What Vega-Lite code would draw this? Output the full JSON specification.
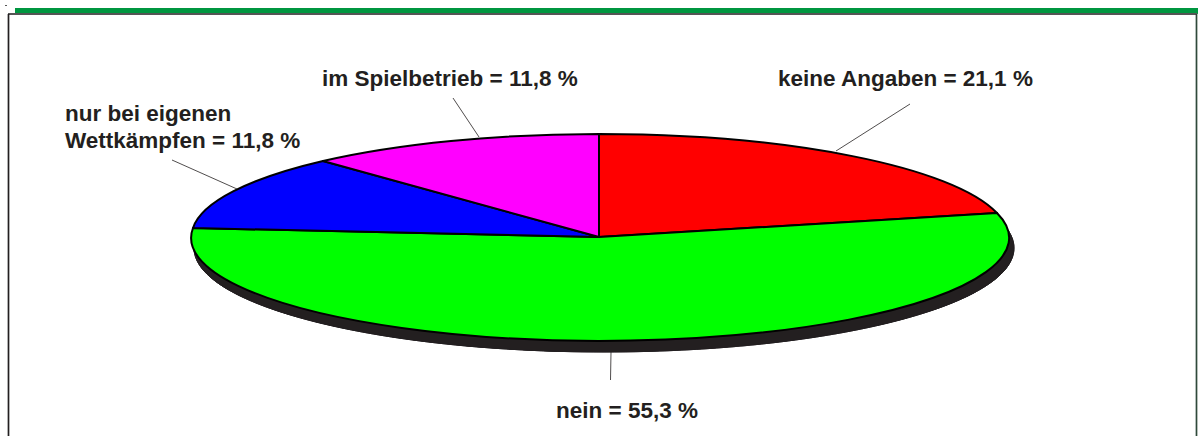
{
"$schema":"https://vega.github.io/schema/vega-lite/v6.json",
"width":1198,"height":436,"padding":0,"autosize":{"type":"none"},
"background":"#ffffff",
"config":{"view":{"stroke":null},"axis":{"disable":true},"legend":{"disable":true},"text":{"font":"Liberation Sans","fontWeight":"bold","fontSize":22.5,"fill":"#231f20","align":"left","baseline":"alphabetic"}},
"data":{"values":[
{"slice":"keine Angaben","share":21.1,"label":"keine Angaben = 21,1 %"},
{"slice":"nein","share":55.3,"label":"nein = 55,3 %"},
{"slice":"nur bei eigenen Wettkämpfen","share":11.8,"label":["nur bei eigenen","Wettkämpfen = 11,8 %"]},
{"slice":"im Spielbetrieb","share":11.8,"label":"im Spielbetrieb = 11,8 %"}
]},
"layer":[
{"mark":{"type":"rect","fill":"#009640"},"encoding":{
"x":{"datum":15,"type":"quantitative","scale":{"domain":[0,1198],"nice":false,"zero":false}},
"x2":{"datum":1198},
"y":{"datum":8,"type":"quantitative","scale":{"domain":[436,0],"nice":false,"zero":false}},
"y2":{"datum":13.5}}},
{"mark":{"type":"rule","stroke":"#555555","strokeWidth":1.5},"encoding":{"x":{"datum":8,"type":"quantitative"},"x2":{"datum":1197},"y":{"datum":14,"type":"quantitative"},"y2":{"datum":14}}},
{"mark":{"type":"rule","stroke":"#231f20","strokeWidth":1.2},"encoding":{"x":{"datum":8.5,"type":"quantitative"},"x2":{"datum":8.5},"y":{"datum":14,"type":"quantitative"},"y2":{"datum":436}}},
{"mark":{"type":"rule","stroke":"#2f4a3a","strokeWidth":1.2},"encoding":{"x":{"datum":1196.5,"type":"quantitative"},"x2":{"datum":1196.5},"y":{"datum":14,"type":"quantitative"},"y2":{"datum":436}}},
{"mark":{"type":"rule","stroke":"#555555","strokeWidth":1},"encoding":{"x":{"datum":5,"type":"quantitative"},"x2":{"datum":7},"y":{"datum":5.5,"type":"quantitative"},"y2":{"datum":5.5}}},
{"mark":{"type":"point","filled":true,"opacity":1,"size":4,"fill":"#231f20","stroke":"#231f20","strokeWidth":0.5,"shape":"M-405,11 A410,104 0 1 1 415,11 A410,104 0 1 1 -405,11 Z"},"encoding":{"x":{"datum":599,"type":"quantitative"},"y":{"datum":237,"type":"quantitative"}}},
{"mark":{"type":"point","filled":true,"opacity":1,"size":4,"stroke":"#000000","strokeWidth":2,"strokeJoin":"round"},"encoding":{
"x":{"datum":599,"type":"quantitative"},
"y":{"datum":237,"type":"quantitative"},
"fill":{"field":"slice","type":"nominal","scale":{"domain":["keine Angaben","nein","nur bei eigenen Wettkämpfen","im Spielbetrieb"],"range":["#ff0000","#00ff00","#0000ff","#ff00ff"]}},
"shape":{"field":"slice","type":"nominal","scale":{"domain":["keine Angaben","nein","nur bei eigenen Wettkämpfen","im Spielbetrieb"],"range":[
"M0,0 L0,-103 A409,103 0 0 1 398,-24 Z",
"M0,0 L398,-24 A409,103 0 1 1 -406,-9 Z",
"M0,0 L-406,-9 A409,103 0 0 1 -276,-76 Z",
"M0,0 L-276,-76 A409,103 0 0 1 0,-103 Z"]}}}},
{"transform":[{"filter":"datum.slice==='keine Angaben'"}],"layer":[
{"mark":{"type":"rule","stroke":"#231f20","strokeWidth":0.8},"encoding":{"x":{"datum":910,"type":"quantitative"},"x2":{"datum":836},"y":{"datum":104,"type":"quantitative"},"y2":{"datum":151}}},
{"mark":"text","encoding":{"x":{"datum":778,"type":"quantitative"},"y":{"datum":86,"type":"quantitative"},"text":{"field":"label"}}}]},
{"transform":[{"filter":"datum.slice==='im Spielbetrieb'"}],"layer":[
{"mark":{"type":"rule","stroke":"#231f20","strokeWidth":0.8},"encoding":{"x":{"datum":453,"type":"quantitative"},"x2":{"datum":479},"y":{"datum":98,"type":"quantitative"},"y2":{"datum":137}}},
{"mark":"text","encoding":{"x":{"datum":322,"type":"quantitative"},"y":{"datum":86,"type":"quantitative"},"text":{"field":"label"}}}]},
{"transform":[{"filter":"datum.slice==='nur bei eigenen Wettkämpfen'"}],"layer":[
{"mark":{"type":"rule","stroke":"#231f20","strokeWidth":0.8},"encoding":{"x":{"datum":172,"type":"quantitative"},"x2":{"datum":237},"y":{"datum":160,"type":"quantitative"},"y2":{"datum":189}}},
{"mark":{"type":"text","lineHeight":27.5},"encoding":{"x":{"datum":65,"type":"quantitative"},"y":{"datum":120.5,"type":"quantitative"},"text":{"field":"label"}}}]},
{"transform":[{"filter":"datum.slice==='nein'"}],"layer":[
{"mark":{"type":"rule","stroke":"#231f20","strokeWidth":0.8},"encoding":{"x":{"datum":611,"type":"quantitative"},"x2":{"datum":610.5},"y":{"datum":352,"type":"quantitative"},"y2":{"datum":380}}},
{"mark":"text","encoding":{"x":{"datum":556,"type":"quantitative"},"y":{"datum":418,"type":"quantitative"},"text":{"field":"label"}}}]}
]
}
